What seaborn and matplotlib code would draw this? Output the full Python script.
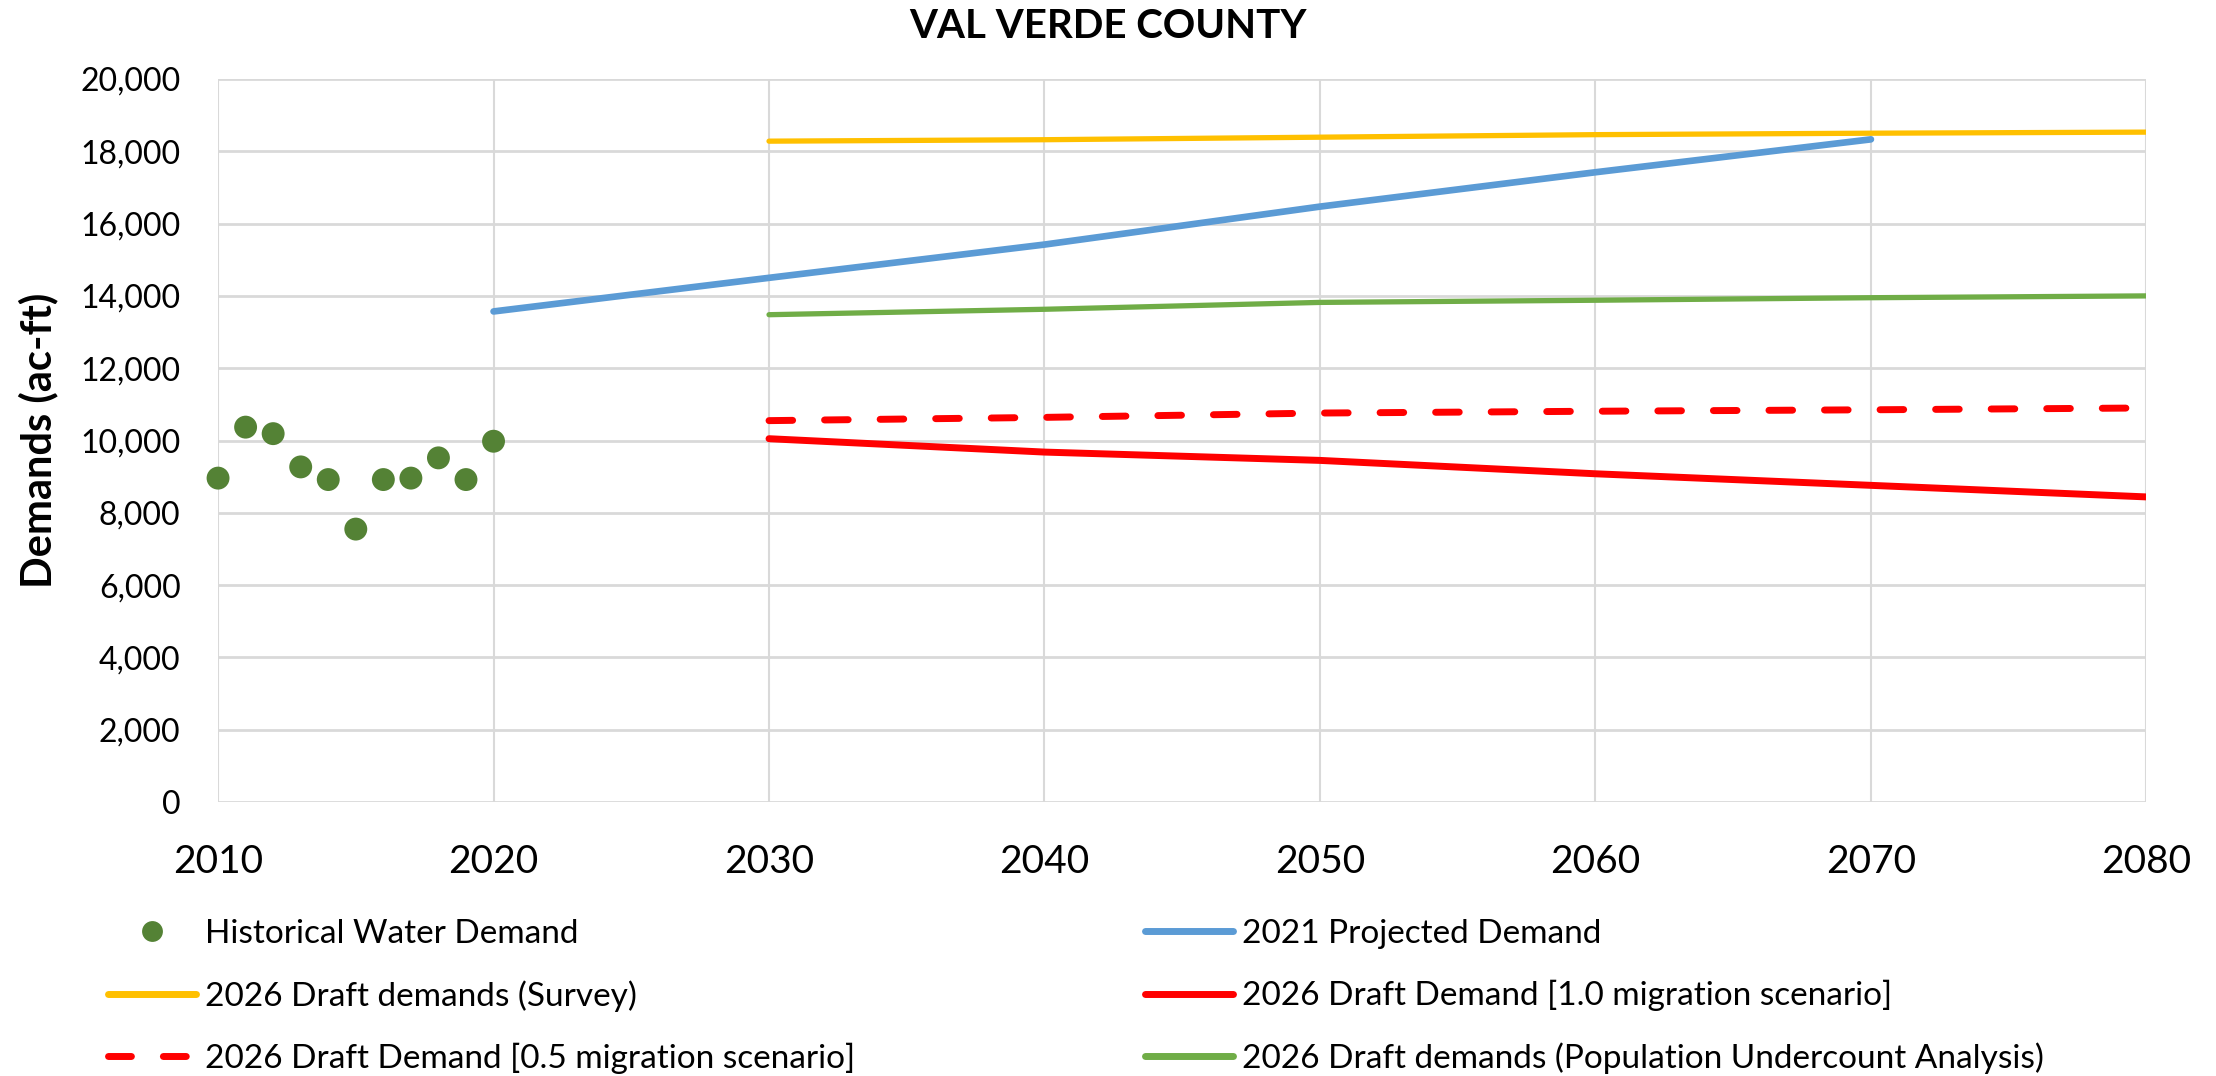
import pandas as pd
import seaborn as sns
import matplotlib.pyplot as plt
from matplotlib.ticker import FuncFormatter
from matplotlib.lines import Line2D

# historical points
hist_years = [2010, 2011, 2012, 2013, 2014, 2015, 2016, 2017, 2018, 2019, 2020]
hist_demand = [8960, 10370, 10190, 9270, 8920, 7550, 8920, 8960, 9520, 8920, 9980]

# projections
proj2021_years = [2020, 2030, 2040, 2050, 2060, 2070]
proj2021 = [13570, 14500, 15420, 16470, 17420, 18330]

draft_years = [2030, 2040, 2050, 2060, 2070, 2080]
survey = [18280, 18320, 18390, 18460, 18500, 18530]
mig10 = [10050, 9680, 9450, 9080, 8760, 8440]
mig05 = [10550, 10640, 10760, 10810, 10850, 10900]
undercount = [13480, 13630, 13820, 13880, 13950, 14000]

lab_hist = "Historical Water Demand"
lab_2021 = "2021 Projected Demand"
lab_survey = "2026 Draft demands (Survey)"
lab_10 = "2026 Draft Demand [1.0 migration scenario]"
lab_05 = "2026 Draft Demand [0.5 migration scenario]"
lab_under = "2026 Draft demands (Population Undercount Analysis)"

BLUE, YELLOW, GREEN, RED, DKGREEN = "#5B9BD5", "#FFC000", "#70AD47", "#FF0000", "#548235"

sns.set_style("white")
plt.rcParams["font.family"] = ["Lato", "DejaVu Sans"]
for k in ["text.color", "axes.labelcolor", "xtick.color", "ytick.color"]:
    plt.rcParams[k] = "black"

fig = plt.figure(figsize=(22.16, 10.76), dpi=100)
ax = fig.add_axes([0.0984, 0.2546, 0.8702, 0.672])

hist = pd.DataFrame({"year": hist_years, "demand": hist_demand})
p21 = pd.DataFrame({"year": proj2021_years, "demand": proj2021})
draft = pd.DataFrame({"year": draft_years, "survey": survey, "mig10": mig10,
                      "mig05": mig05, "under": undercount})

sns.lineplot(data=p21, x="year", y="demand", ax=ax, color=BLUE, linewidth=4.8,
             solid_capstyle="round")
sns.lineplot(data=draft, x="year", y="survey", ax=ax, color=YELLOW, linewidth=3.8)
sns.lineplot(data=draft, x="year", y="under", ax=ax, color=GREEN, linewidth=3.8)
sns.lineplot(data=draft, x="year", y="mig10", ax=ax, color=RED, linewidth=5,
             solid_capstyle="round")
sns.lineplot(data=draft, x="year", y="mig05", ax=ax, color=RED, linewidth=5,
             linestyle=(0, (3.4, 4.6)), dash_capstyle="round")
sns.scatterplot(data=hist, x="year", y="demand", ax=ax, color=DKGREEN, s=272,
                edgecolor="none", zorder=5, clip_on=False)

ax.set_xlim(2010, 2080)
ax.set_ylim(0, 20000)
ax.set_xticks(range(2010, 2081, 10))
ax.set_yticks(range(0, 20001, 2000))
ax.yaxis.set_major_formatter(FuncFormatter(lambda v, p: f"{int(v):,}"))
ax.tick_params(axis="y", labelsize=23, pad=27, length=0)
ax.tick_params(axis="x", labelsize=28, pad=30, length=0)
ax.set_xlabel("")
ax.set_ylabel("Demands (ac-ft)", fontsize=30, fontweight="bold")
ax.yaxis.set_label_coords(-0.083, 0.5)
ax.yaxis.grid(True, color="#d9d9d9", linewidth=2.0)
ax.xaxis.grid(True, color="#d9d9d9", linewidth=1.5)
ax.set_axisbelow(True)
for s in ax.spines.values():
    s.set_visible(False)

fig.suptitle("VAL VERDE COUNTY", fontsize=29, fontweight="bold", y=0.975, va="center")

# legend, two columns placed like the original
h_hist = Line2D([], [], color=DKGREEN, marker="o", markersize=15, markeredgewidth=0,
                linestyle="none")
h_2021 = Line2D([], [], color=BLUE, linewidth=5, solid_capstyle="round")
h_survey = Line2D([], [], color=YELLOW, linewidth=5, solid_capstyle="round")
h_10 = Line2D([], [], color=RED, linewidth=5, solid_capstyle="round")
h_05 = Line2D([], [], color=RED, linewidth=5, linestyle=(0, (3.3, 4.6)),
              dash_capstyle="round")
h_under = Line2D([], [], color=GREEN, linewidth=5, solid_capstyle="round")

leg_kw = dict(frameon=False, fontsize=24, handlelength=2.65, handletextpad=0.25,
              labelspacing=0.93, loc="upper left", borderaxespad=0, borderpad=0)
fig.legend([h_hist, h_survey, h_05], [lab_hist, lab_survey, lab_05],
           bbox_to_anchor=(0.0487, 0.146), **leg_kw)
fig.legend([h_2021, h_10, h_under], [lab_2021, lab_10, lab_under],
           bbox_to_anchor=(0.5167, 0.146), **leg_kw)

fig.savefig("out.png", dpi=100)
